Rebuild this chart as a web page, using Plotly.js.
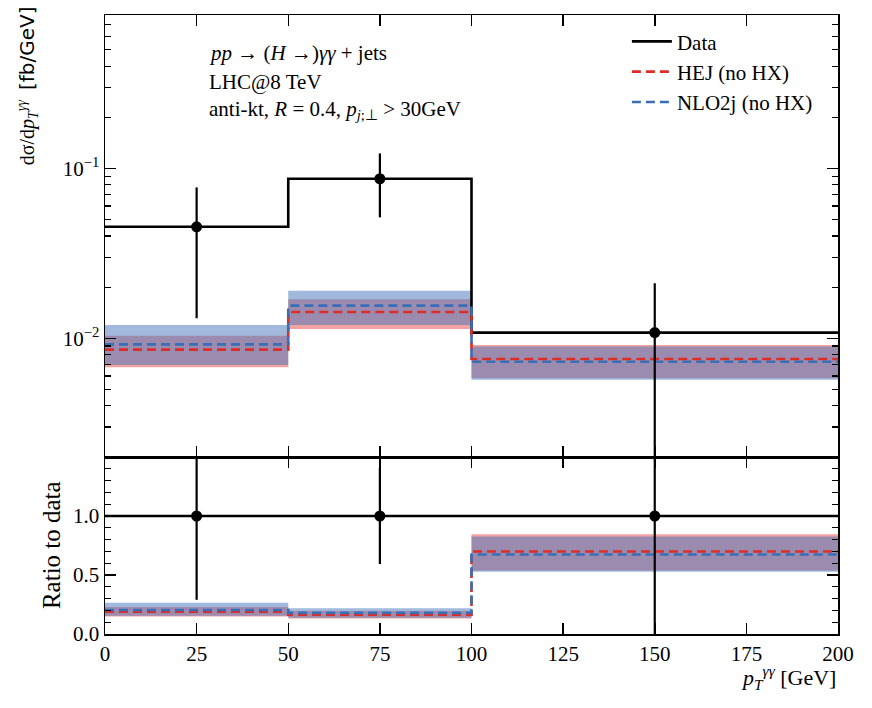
<!DOCTYPE html>
<html>
<head>
<meta charset="utf-8">
<script src="https://cdn.plot.ly/plotly-3.0.1.min.js"></script>
<style>html,body{margin:0;padding:0;background:#fff;}#chart{width:872px;height:708px;}</style>
</head>
<body>
<div id="chart"></div>
<script>
// ---- data ----
const binEdges   = [0, 50, 100, 200];
const binCenters = [25, 75, 150];
const dataVal  = [0.0453, 0.0869, 0.0108];
const dataUp   = [0.0773, 0.1225, 0.0211];
const dataDown = [0.01312, 0.0515, 0.0];
const hejVal   = [0.00857, 0.01429, 0.00755];
const hejUp    = [0.01035, 0.01695, 0.00914];
const hejDown  = [0.00675, 0.01135, 0.00582];
const nloVal   = [0.00921, 0.01556, 0.00728];
const nloUp    = [0.01196, 0.01905, 0.00893];
const nloDown  = [0.00697, 0.01196, 0.00569];
const xTicks = [0, 25, 50, 75, 100, 125, 150, 175, 200];
const yTopTicks = [0.1, 0.01];
const yTopTickText = ['10<sup>−1</sup>', '10<sup>−2</sup>'];
const yTopMinor = [0.002,0.003,0.004,0.005,0.006,0.007,0.008,0.009,0.02,0.03,0.04,0.05,0.06,0.07,0.08,0.09,0.2,0.3,0.4,0.5,0.6,0.7,0.8];
const yBotTicks = [0, 0.5, 1.0];
const yBotTickText = ['0.0', '0.5', '1.0'];
const yBotMinor = [0.1,0.2,0.3,0.4,0.6,0.7,0.8,0.9,1.1,1.2,1.3,1.4];

// ---- helpers ----
const step = a => a.concat([a[a.length - 1]]);
const ratio = a => a.map((v, i) => v / dataVal[i]);

const RED = 'rgb(222,45,38)';
const BLUE = 'rgb(58,110,182)';
const RED_FILL = 'rgba(232,70,70,0.5)';
const BLUE_FILL = 'rgba(68,116,186,0.5)';
const SERIF = 'Liberation Serif';

function band(lo, hi, color, xa, ya) {
  return [
    {x: binEdges, y: step(lo), xaxis: xa, yaxis: ya, mode: 'lines', line: {shape: 'hv', width: 0}, showlegend: false, hoverinfo: 'skip'},
    {x: binEdges, y: step(hi), xaxis: xa, yaxis: ya, mode: 'lines', line: {shape: 'hv', width: 0}, fill: 'tonexty', fillcolor: color, showlegend: false, hoverinfo: 'skip'}
  ];
}
function stepLine(v, color, dash, xa, ya, name, legend) {
  return {x: binEdges, y: step(v), xaxis: xa, yaxis: ya, mode: 'lines', name: name,
    line: {shape: 'hv', color: color, width: 2.6, dash: dash}, showlegend: legend, legendgroup: name};
}
function points(v, up, down, xa, ya) {
  return {x: binCenters, y: v, xaxis: xa, yaxis: ya, mode: 'markers', showlegend: false,
    marker: {color: 'black', size: 11},
    error_y: {type: 'data', symmetric: false,
      array: up.map((u, i) => u - v[i]), arrayminus: down.map((d, i) => v[i] - d),
      color: 'black', thickness: 2.2, width: 0}};
}

const traces = [];
// top panel
traces.push(...band(hejDown, hejUp, RED_FILL, 'x', 'y'));
traces.push(...band(nloDown, nloUp, BLUE_FILL, 'x', 'y'));
traces.push(stepLine(dataVal, 'black', 'solid', 'x', 'y', 'Data', true));
traces.push(stepLine(hejVal, RED, '9px,5px', 'x', 'y', 'HEJ (no HX)', true));
traces.push(stepLine(nloVal, BLUE, '9px,5px', 'x', 'y', 'NLO2j (no HX)', true));
traces.push(points(dataVal, dataUp, dataDown, 'x', 'y'));
// ratio panel
traces.push(...band(ratio(hejDown), ratio(hejUp), RED_FILL, 'x2', 'y2'));
traces.push(...band(ratio(nloDown), ratio(nloUp), BLUE_FILL, 'x2', 'y2'));
traces.push(stepLine(ratio(dataVal), 'black', 'solid', 'x2', 'y2', 'Data', false));
traces.push(stepLine(ratio(hejVal), RED, '9px,5px', 'x2', 'y2', 'HEJ (no HX)', false));
traces.push(stepLine(ratio(nloVal), BLUE, '9px,5px', 'x2', 'y2', 'NLO2j (no HX)', false));
traces.push(points(ratio(dataVal), ratio(dataUp), ratio(dataDown), 'x2', 'y2'));

const split = 177 / 619;
const axCommon = {showline: true, linecolor: 'black', linewidth: 1.5, mirror: 'ticks', ticks: 'inside',
  ticklen: 11, tickwidth: 1.5, tickcolor: 'black', showgrid: false, zeroline: false,
  tickfont: {family: SERIF, size: 21, color: 'black'}};

const layout = {
  width: 872, height: 708,
  margin: {l: 105, r: 34, t: 15, b: 74},
  paper_bgcolor: 'white', plot_bgcolor: 'white',
  font: {family: SERIF, color: 'black'},
  xaxis: Object.assign({}, axCommon, {range: [0, 200], tickmode: 'array', tickvals: xTicks, showticklabels: false, anchor: 'y', matches: 'x2'}),
  yaxis: Object.assign({}, axCommon, {type: 'log', range: [-2.699, -0.097], domain: [split, 1], anchor: 'x',
    tickmode: 'array', tickvals: yTopTicks, ticktext: yTopTickText,
    minor: {tickmode: 'array', tickvals: yTopMinor, ticks: 'inside', ticklen: 6, tickwidth: 1.2, tickcolor: 'black', showgrid: false}}),
  xaxis2: Object.assign({}, axCommon, {range: [0, 200], tickmode: 'array', tickvals: xTicks, anchor: 'y2'}),
  yaxis2: Object.assign({}, axCommon, {range: [0, 1.5], domain: [0, split], anchor: 'x2',
    tickmode: 'array', tickvals: yBotTicks, ticktext: yBotTickText,
    minor: {tickmode: 'array', tickvals: yBotMinor, ticks: 'inside', ticklen: 6, tickwidth: 1.2, tickcolor: 'black', showgrid: false}}),
  showlegend: true,
  legend: {x: 0.712, y: 0.990, xanchor: 'left', yanchor: 'top', bgcolor: 'rgba(0,0,0,0)',
    font: {family: SERIF, size: 21, color: 'black'}, tracegroupgap: 0, itemwidth: 40},
  annotations: [
    {xref: 'paper', yref: 'paper', x: 0.139, y: 0.9386, xanchor: 'left', yanchor: 'middle', showarrow: false,
      text: '<i>pp</i> → (<i>H</i> →)<i>γγ</i> + jets', font: {family: SERIF, size: 21, color: 'black'}},
    {xref: 'paper', yref: 'paper', x: 0.139, y: 0.8918, xanchor: 'left', yanchor: 'middle', showarrow: false,
      text: 'LHC@8 TeV', font: {family: SERIF, size: 21, color: 'black'}},
    {xref: 'paper', yref: 'paper', x: 0.139, y: 0.8465, xanchor: 'left', yanchor: 'middle', showarrow: false,
      text: 'anti-kt, <i>R</i> = 0.4, <i>p</i><sub><i>j</i>;⊥</sub> > 30GeV', font: {family: SERIF, size: 21, color: 'black'}},
    {xref: 'paper', yref: 'paper', x: -0.105, y: 0.885, xanchor: 'center', yanchor: 'middle', showarrow: false, textangle: -90,
      text: 'dσ/d<i>p</i><sub><i>T</i></sub><sup><i>γγ</i></sup>  <span style="font-family:DejaVu Sans">[fb/GeV]</span>',
      font: {family: SERIF, size: 20, color: 'black'}},
    {xref: 'paper', yref: 'paper', x: -0.072, y: 0.144, xanchor: 'center', yanchor: 'middle', showarrow: false, textangle: -90,
      text: 'Ratio to data', font: {family: SERIF, size: 25, color: 'black'}},
    {xref: 'paper', yref: 'paper', x: 1.0, y: -0.071, xanchor: 'right', yanchor: 'middle', showarrow: false,
      text: '<i>p</i><sub><i>T</i></sub><sup><i>γγ</i></sup> [GeV]', font: {family: SERIF, size: 22, color: 'black'}}
  ]
};

Plotly.newPlot('chart', traces, layout, {displayModeBar: false, staticPlot: true});
</script>
</body>
</html>
